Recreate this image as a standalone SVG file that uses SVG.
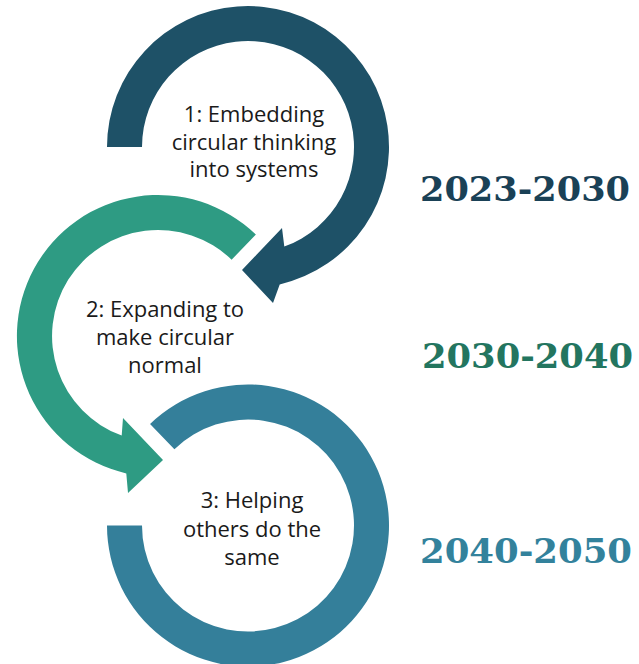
<svg xmlns="http://www.w3.org/2000/svg" width="639" height="664" viewBox="0 0 639 664">
<style>
.lbl{font-family:"Open Sans","Lato","Liberation Sans",sans-serif;font-size:22px;fill:#1a1a1a;text-anchor:middle}
.yr{font-family:"DejaVu Serif","Liberation Serif",serif;font-size:33px;font-weight:bold}
</style>
<rect width="639" height="664" fill="#ffffff"/>
<g id="stage1">
<path d="M107,147 A141,141 0 1 1 279.7,284.4 L273,303 L242,270 L282,228 L284.3,246.6 A106,106 0 1 0 142,147 Z" fill="#1e5167"/>
<text class="lbl" x="254" y="122">1: Embedding</text>
<text class="lbl" x="254" y="150">circular thinking</text>
<text class="lbl" x="254" y="177">into systems</text>
</g>
<g id="stage2">
<path d="M255.9,234.6 A141,141 0 1 0 126.3,473.4 L128,493 L163,460 L123,418 L121.7,435.6 A106,106 0 1 1 231.6,259.7 Z" fill="#2e9b83"/>
<text class="lbl" x="165" y="317">2: Expanding to</text>
<text class="lbl" x="165" y="345">make circular</text>
<text class="lbl" x="165" y="373">normal</text>
</g>
<g id="stage3">
<path d="M107,525.5 A141,141 0 1 0 150.05,424.07 L174.4,449.25 A106,106 0 1 1 142,525.5 Z" fill="#347f9a"/>
<text class="lbl" x="252" y="508">3: Helping</text>
<text class="lbl" x="252" y="537">others do the</text>
<text class="lbl" x="252" y="565">same</text>
</g>
<g id="connectors"></g>
<g id="year1"><text class="yr" x="420" y="201" fill="#1a4156" textLength="210" lengthAdjust="spacingAndGlyphs">2023-2030</text></g>
<g id="year2"><text class="yr" x="422" y="368" fill="#23755f" textLength="211" lengthAdjust="spacingAndGlyphs">2030-2040</text></g>
<g id="year3"><text class="yr" x="420" y="563" fill="#33829c" textLength="212" lengthAdjust="spacingAndGlyphs">2040-2050</text></g>
</svg>
